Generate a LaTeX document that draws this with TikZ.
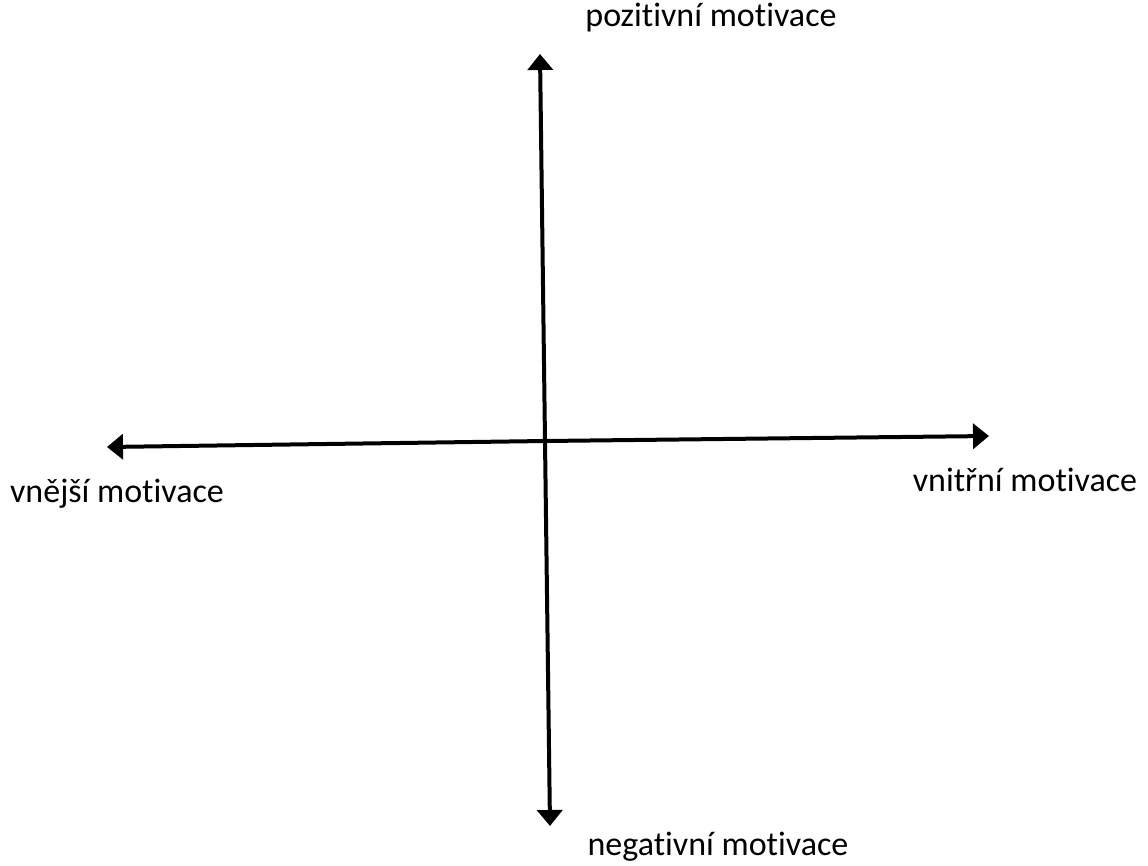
\documentclass[tikz,border=0pt]{standalone}
\usepackage{fontspec}
\setmainfont{Carlito}[Ligatures=NoCommon]
\usetikzlibrary{arrows.meta}
\begin{document}
\begin{tikzpicture}[x=1pt, y=-1pt, every node/.style={font=\fontsize{34}{40}\selectfont, inner sep=0pt},
    axis/.style={line width=4pt, -{Triangle[length=16pt, width=25pt]}}]
    \useasboundingbox (0,0) rectangle (1148,865);
    % Axis end points
        \coordinate (top) at (540,54);
        \coordinate (bottom) at (550,826);
        \coordinate (left) at (107,447);
        \coordinate (right) at (989,436);
        \coordinate (centre) at (545,441);
    % Labels
        \node (pos) at (711,18) {pozitivní motivace};
        \node (neg) at (718,847) {negativní motivace};
        \node (ext) at (117,494) {vnější motivace};
        \node (int) at (1025,480) {vnitřní motivace};
    % Axes
        \draw[axis] (centre) -- (top);
        \draw[axis] (centre) -- (bottom);
        \draw[axis] (centre) -- (left);
        \draw[axis] (centre) -- (right);
\end{tikzpicture}
\end{document}
